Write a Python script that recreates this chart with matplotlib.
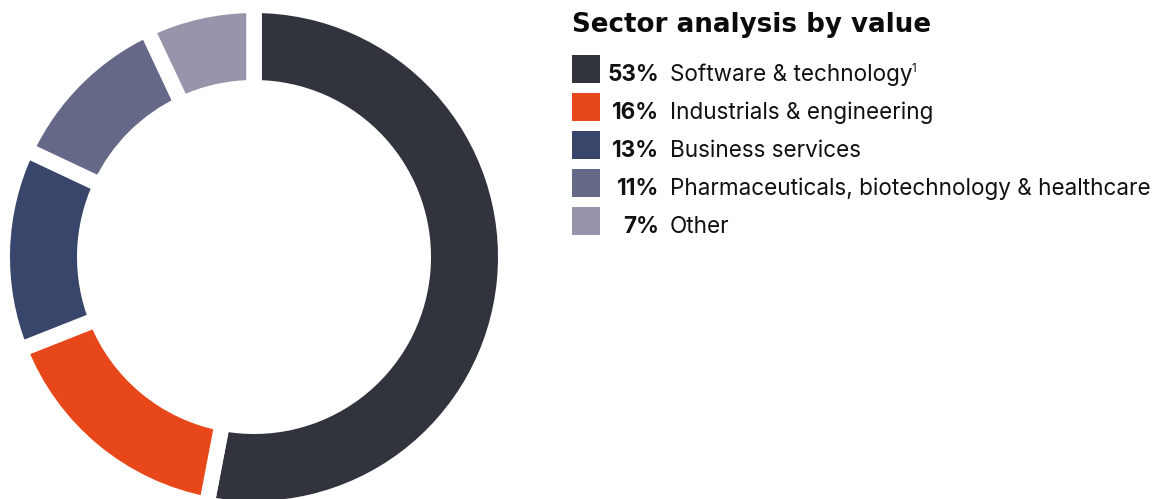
import matplotlib.pyplot as plt
from matplotlib.patches import Rectangle

W, H = 1157, 499

sectors = ['Software & technology', 'Industrials & engineering', 'Business services',
           'Pharmaceuticals, biotechnology & healthcare', 'Other']
shares = [53, 16, 13, 11, 7]
colors = ['#31333d', '#e84719', '#38466b', '#666888', '#9794ab']
title = 'Sector analysis by value'

fig = plt.figure(figsize=(W / 100, H / 100), dpi=100)
ax = fig.add_axes([0, 0, 1, 1])

# donut, gaps come from a thick white edge
gap = 15.5
ax.pie(shares, colors=colors, startangle=90, counterclock=False,
       center=(254, H - 257), radius=244 + gap / 2,
       wedgeprops=dict(width=67 + gap, edgecolor='white', linewidth=gap * 0.72))
ax.set_xlim(0, W)
ax.set_ylim(0, H)
ax.set_aspect('auto')
ax.axis('off')

ax.text(572, H - 32, title, fontsize=18.8, fontweight='bold', family='DejaVu Sans',
        color='#0b0b0b', va='baseline', ha='left')

renderer = fig.canvas.get_renderer()
for i, (name, pct, c) in enumerate(zip(sectors, shares, colors)):
    base = 80.5 + 38.1 * i
    ax.add_patch(Rectangle((572, H - (base - 11.5) - 14), 28, 28, color=c, lw=0))
    ax.text(659, H - base, f'{pct}%', fontsize=16.2, fontweight='bold', family='Inter',
            color='#111111', ha='right', va='baseline')
    t = ax.text(670, H - base, name, fontsize=16.2, family='Inter',
                color='#111111', ha='left', va='baseline')
    if i == 0:
        bb = t.get_window_extent(renderer=renderer)
        ax.text(bb.x1 - 0.5, H - base + 9, '1', fontsize=8.5, family='Inter',
                color='#111111', ha='left', va='baseline')

fig.savefig('out.png', dpi=100)
